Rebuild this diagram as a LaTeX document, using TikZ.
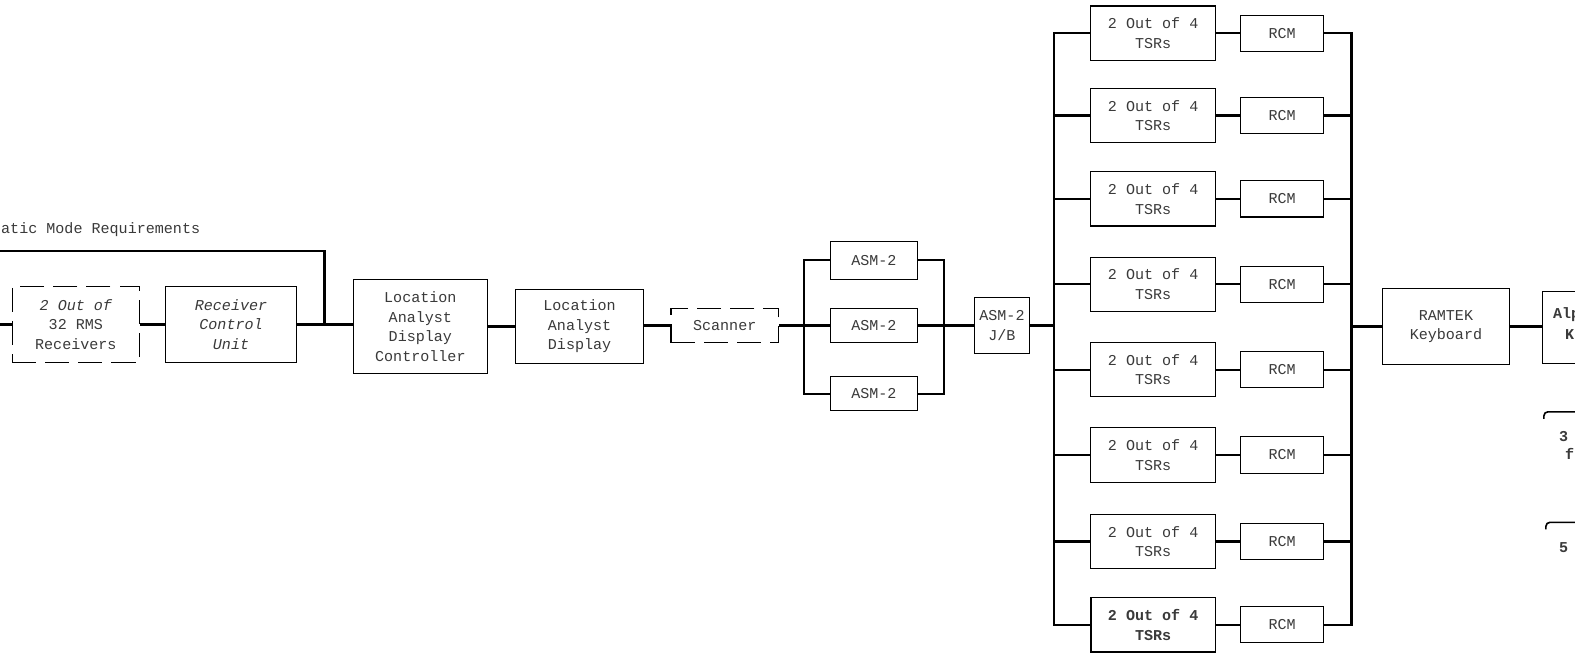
\documentclass[tikz,border=0pt]{standalone}
\usepackage{fontspec}
\newfontfamily\tw{Liberation Mono}
\usetikzlibrary{calc}
\definecolor{ink}{HTML}{3A3A3A}
\newcommand{\twsize}{\fontsize{15}{19.5}\selectfont}
\tikzset{
  box/.style={draw=black, line width=1.1pt, minimum width=#1, align=center, inner sep=2pt,
     text=ink, font=\tw\twsize},
  dbox/.style={box=#1, dash pattern=on 24pt off 9pt},
  conn/.style={line width=2.2pt},
  lbl/.style={text=ink, font=\tw\twsize, inner sep=0pt},
  bfl/.style={lbl, font=\tw\bfseries\twsize},
}
\begin{document}
\begin{tikzpicture}[x=1pt,y=-1pt]
\useasboundingbox (0,0) rectangle (1568,652);
\fill[white] (0,0) rectangle (1568,652);
\clip (0,0) rectangle (1568,652);

% left chain
\node[lbl, anchor=west] (title) at (1,229) {atic Mode Requirements};
\node[dbox=127pt, minimum height=75pt] (rms) at (75.5,323) {\itshape 2 Out of\\32 RMS\\Receivers};
\node[box=130pt, minimum height=75pt] (rcu) at (230,323) {\itshape Receiver\\\itshape Control\\\itshape Unit};
\node[box=133pt, minimum height=93pt] (ladc) at (418.5,325) {Location\\Analyst\\Display\\Controller};
\node[box=128pt, minimum height=74pt] (lad) at (577,325) {Location\\Analyst\\Display};
\node[dbox=107pt, minimum height=34pt] (scan) at (721.5,324) {Scanner};

\coordinate (l0) at (0,323);
\coordinate (tl) at (0,250);
\coordinate (j1) at (323,323);
\draw[conn] (l0) -- (rms);
\draw[conn] (rms) -- (rcu);
\draw[conn] (rcu.east |- j1) -- (ladc.west |- j1);
\draw[conn] (tl) -| (j1);
\draw[conn] (ladc.east |- lad) -- (lad);
\draw[conn] (lad.east |- scan) -- (scan);

% ASM-2 group
\node[box=86pt, minimum height=38pt] (asm1) at (870,259) {ASM-2};
\node[box=86pt, minimum height=34pt] (asm2) at (870,324) {ASM-2};
\node[box=86pt, minimum height=34pt] (asm3) at (870,392) {ASM-2};
\node[box=55pt, minimum height=56pt] (jb) at (997.5,324) {ASM-2\\J/B};
\draw[conn] (scan) -- (asm2);
\draw[conn] (asm1.west) -- ++(-26,0) |- (asm3.west);
\draw[conn] (asm1.east) -- ++(26,0) |- (asm3.east);
\draw[conn] (asm2) -- (jb);

% TSR / RCM rows
\foreach \i/\y in {1/33,2/115,3/198,4/283,5/368,6/453,7/539} {
  \node[box=124pt, minimum height=54pt] (tsr\i) at (1148,\y) {2 Out of 4\\TSRs};
  \node[box=83pt, minimum height=36pt] (rcm\i) at (1276.5,\y) {RCM};
}
\node[box=124pt, minimum height=54pt, line width=1.6pt, font=\tw\bfseries\twsize] (tsr8) at (1148,622) {2 Out of 4\\TSRs};
\node[box=83pt, minimum height=36pt] (rcm8) at (1276.5,622) {RCM};
\coordinate (lb) at ($(tsr1.west)+(-36,0)$);
\coordinate (rb) at ($(rcm1.east)+(27,0)$);
\draw[conn] (tsr1.west) -- (lb) |- (tsr8.west);
\draw[conn] (rcm1.east) -- (rb) |- (rcm8.east);
\foreach \i in {1,...,8} {
  \draw[conn] (tsr\i) -- (rcm\i);
  \draw[conn] (tsr\i.west) -- (tsr\i.west -| lb);
  \draw[conn] (rcm\i.east) -- (rcm\i.east -| rb);
}
\draw[conn] (jb.east) -- (jb.east -| lb);

% RAMTEK and clipped right part
\node[box=127pt, minimum height=75pt] (ram) at (1439.5,325) {RAMTEK\\Keyboard};
\draw[conn] (ram.west -| rb) -- (ram.west);
\node[draw=black, line width=1.3pt, minimum width=80pt, minimum height=72pt, anchor=west] (alp) at (1535,326) {};
\draw[conn] (ram) -- (alp.west |- ram);
\node[bfl, anchor=west] (alt) at (1546,313) {Alp};
\node[bfl, anchor=west] (kt) at (1558,333) {K};

\coordinate (h1a) at (1572,410);
\coordinate (h1b) at (1537,410);
\coordinate (h1c) at (1537,417);
\draw[line width=1.6pt, rounded corners=4pt] (h1a) -- (h1b) -- (h1c);
\node[bfl, anchor=west] (t3) at (1552,435) {3};
\node[bfl, anchor=west] (tf) at (1558,452) {f};
\coordinate (h2a) at (1572,520);
\coordinate (h2b) at (1539,520);
\coordinate (h2c) at (1539,527);
\draw[line width=1.6pt, rounded corners=4pt] (h2a) -- (h2b) -- (h2c);
\node[bfl, anchor=west] (t5) at (1552,545) {5};
\end{tikzpicture}
\end{document}
